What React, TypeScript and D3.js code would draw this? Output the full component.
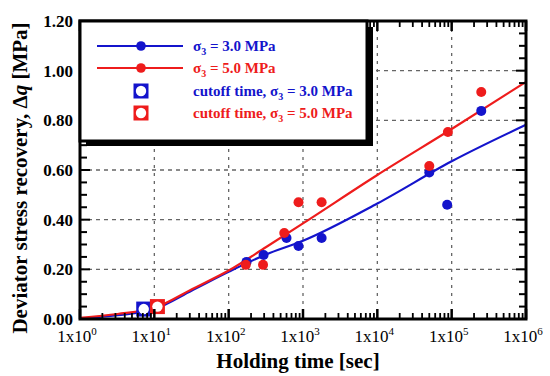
import React from "react";
import * as d3 from "d3";

const blueTime = [174, 295, 600, 870, 1780, 50000, 87000, 250000];
const blueVal = [0.23, 0.258, 0.326, 0.294, 0.326, 0.59, 0.46, 0.838];
const redTime = [170, 290, 560, 870, 1780, 50000, 89000, 250000];
const redVal = [0.218, 0.218, 0.346, 0.47, 0.47, 0.616, 0.753, 0.914];

const cutoffBlue = { t: 7.2, v: 0.04 };
const cutoffRed = { t: 11, v: 0.05 };

const fitTime = [1, 3.2, 10, 32, 100, 320, 1000, 10000, 100000, 1000000];
const fitBlue = [0.002, 0.015, 0.04, 0.115, 0.19, 0.26, 0.315, 0.465, 0.635, 0.782];
const fitRed = [0.005, 0.02, 0.045, 0.12, 0.195, 0.29, 0.385, 0.58, 0.765, 0.955];

const xTickExp = [0, 1, 2, 3, 4, 5, 6];
const yTicks = [0, 0.2, 0.4, 0.6, 0.8, 1.0, 1.2];

const BLUE = "#1414cc";
const RED = "#ee1c1c";
const FONT = "'Liberation Serif', 'Times New Roman', serif";

export default function App() {
  const L = 80, R = 526, T = 21, B = 319;
  const x = d3.scaleLog().domain([1, 1e6]).range([L, R]);
  const y = d3.scaleLinear().domain([0, 1.2]).range([B, T]);

  const line = d3
    .line<number>()
    .x((_, i) => x(fitTime[i]))
    .y((d) => y(d))
    .curve(d3.curveMonotoneX);

  const minorX: number[] = [];
  for (let e = 0; e < 6; e++) for (let k = 2; k <= 9; k++) minorX.push(k * Math.pow(10, e));
  const yMinor = d3.range(0, 1.2001, 0.05);

  const square = (cx: number, cy: number, color: string, key: string) => (
    <g key={key}>
      <rect x={cx - 7.5} y={cy - 7.5} width={15} height={15} fill={color} />
      <circle cx={cx} cy={cy} r={5.2} fill="#fff" />
    </g>
  );

  const legendRows = [
    { y: 46, color: BLUE, kind: "line", pre: "", val: "3.0" },
    { y: 68, color: RED, kind: "line", pre: "", val: "5.0" },
    { y: 91, color: BLUE, kind: "sq", pre: "cutoff time, ", val: "3.0" },
    { y: 113, color: RED, kind: "sq", pre: "cutoff time, ", val: "5.0" },
  ];

  return (
    <svg
      width={550}
      height={376}
      style={{ position: "absolute", left: 0, top: 0, background: "#fff" }}
      fontFamily={FONT}
    >
      <rect x={0} y={0} width={550} height={376} fill="#fff" />
      {/* grid */}
      {[1, 2, 3, 4, 5].map((e) => (
        <line
          key={"gx" + e}
          x1={x(Math.pow(10, e))}
          x2={x(Math.pow(10, e))}
          y1={T}
          y2={B}
          stroke="#666"
          strokeWidth={1.3}
          strokeDasharray="3,5"
        />
      ))}
      {[0.2, 0.4, 0.6, 0.8, 1.0].map((v) => (
        <line
          key={"gy" + v}
          x1={L}
          x2={R}
          y1={y(v)}
          y2={y(v)}
          stroke="#666"
          strokeWidth={1.3}
          strokeDasharray="4,4"
        />
      ))}
      {/* fits */}
      <path d={line(fitBlue) || ""} fill="none" stroke={BLUE} strokeWidth={2.2} />
      <path d={line(fitRed) || ""} fill="none" stroke={RED} strokeWidth={2.2} />
      {/* points */}
      {blueTime.map((t, i) => (
        <circle key={"b" + i} cx={x(t)} cy={y(blueVal[i])} r={5} fill={BLUE} />
      ))}
      {redTime.map((t, i) => (
        <circle key={"r" + i} cx={x(t)} cy={y(redVal[i])} r={5} fill={RED} />
      ))}
      {square(x(cutoffBlue.t), y(cutoffBlue.v), BLUE, "cb")}
      {square(x(cutoffRed.t), y(cutoffRed.v), RED, "cr")}
      {/* ticks */}
      {xTickExp.map((e) => (
        <g key={"xt" + e}>
          <line x1={x(10 ** e)} x2={x(10 ** e)} y1={B} y2={B - 10} stroke="#000" strokeWidth={2.5} />
          <line x1={x(10 ** e)} x2={x(10 ** e)} y1={T} y2={T + 10} stroke="#000" strokeWidth={2.5} />
        </g>
      ))}
      {minorX.map((t, i) => (
        <g key={"xm" + i}>
          <line x1={x(t)} x2={x(t)} y1={B} y2={B - 6} stroke="#000" strokeWidth={1.8} />
          <line x1={x(t)} x2={x(t)} y1={T} y2={T + 6} stroke="#000" strokeWidth={1.8} />
        </g>
      ))}
      {yMinor.map((v, i) => {
        const major = i % 4 === 0;
        const len = major ? 10 : 7;
        return (
          <g key={"ym" + i}>
            <line x1={L} x2={L + len} y1={y(v)} y2={y(v)} stroke="#000" strokeWidth={2} />
            <line x1={R} x2={R - len} y1={y(v)} y2={y(v)} stroke="#000" strokeWidth={2} />
          </g>
        );
      })}
      {/* spines */}
      <rect x={L} y={T} width={R - L} height={B - T} fill="none" stroke="#000" strokeWidth={3} />
      {/* legend */}
      <rect x={86} y={27} width={287} height={119} fill="#000" />
      <rect x={80} y={21} width={287} height={120} fill="#fff" stroke="#000" strokeWidth={3} />
      {legendRows.map((r, i) => (
        <g key={"lg" + i}>
          {r.kind === "line" ? (
            <g>
              <line x1={97} x2={183} y1={r.y} y2={r.y} stroke={r.color} strokeWidth={2.2} />
              <circle cx={141} cy={r.y} r={4.8} fill={r.color} />
            </g>
          ) : (
            square(141, r.y, r.color, "ls" + i)
          )}
          <text x={193} y={r.y + 5} fill={r.color} fontSize={15} fontWeight="bold">
            {r.pre}σ
            <tspan fontSize={10} dy={4}>3</tspan>
            <tspan dy={-4}>{" = " + r.val + " MPa"}</tspan>
          </text>
        </g>
      ))}
      {/* y tick labels */}
      {yTicks.map((v) => (
        <text
          key={"yl" + v}
          x={73}
          y={y(v) + 6}
          textAnchor="end"
          fontSize={17}
          fontWeight="bold"
        >
          {v.toFixed(2)}
        </text>
      ))}
      {/* x tick labels */}
      {xTickExp.map((e) => (
        <text key={"xl" + e} x={x(10 ** e) - 3} y={342} textAnchor="middle" fontSize={17}>
          1x10
          <tspan fontSize={11} dy={-7}>{e}</tspan>
        </text>
      ))}
      {/* titles */}
      <text x={298} y={368} textAnchor="middle" fontSize={21} fontWeight="bold">
        Holding time [sec]
      </text>
      <text
        transform="translate(27,178) rotate(-90)"
        textAnchor="middle"
        fontSize={21}
        fontWeight="bold"
      >
        Deviator stress recovery, Δ<tspan fontStyle="italic">q</tspan> [MPa]
      </text>
    </svg>
  );
}
